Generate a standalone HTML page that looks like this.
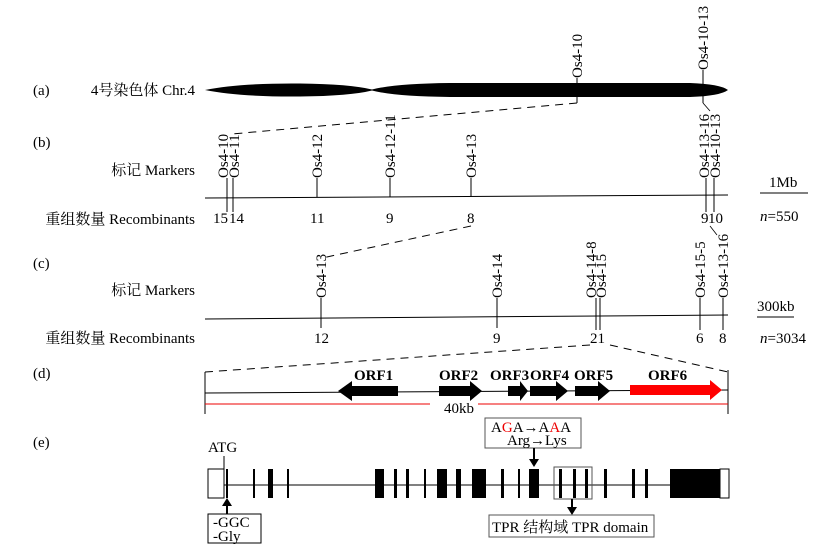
<!DOCTYPE html>
<html><head><meta charset="utf-8"><style>
body{margin:0;background:#fff}
svg{display:block}
text{font-family:"Liberation Serif","Noto Serif CJK SC",serif;font-size:15px;fill:#000}
.b{font-weight:bold;font-size:15px}
</style></head><body>
<svg width="817" height="546" viewBox="0 0 817 546" xmlns="http://www.w3.org/2000/svg">
<!-- (a) -->
<text x="33" y="95">(a)</text>
<text x="195" y="95" text-anchor="end">4号染色体 Chr.4</text>
<path d="M205,90 Q240,83 300,83.5 Q350,84 372,89.5 Q395,83.5 450,83 L690,83 Q720,84 728,90 Q720,96 690,97 L450,97 Q395,96.5 372,90.5 Q350,96 300,96.5 Q240,97 205,90Z" fill="#000"/>
<line x1="577" y1="78" x2="577" y2="103" stroke="#000"/>
<text transform="translate(582,78) rotate(-90)">Os4-10</text>
<line x1="703" y1="70" x2="703" y2="103" stroke="#000"/>
<text transform="translate(708,70) rotate(-90)">Os4-10-13</text>
<line x1="703" y1="103" x2="710" y2="111" stroke="#000" stroke-width="0.8"/>
<line x1="577" y1="103" x2="232" y2="134" stroke="#000" stroke-dasharray="8,6"/>
<!-- (b) -->
<text x="33" y="147">(b)</text>
<text x="195" y="175" text-anchor="end">标记 Markers</text>
<text x="195" y="224" text-anchor="end">重组数量 Recombinants</text>
<line x1="205" y1="198" x2="728" y2="195" stroke="#000"/>
<g stroke="#000">
<line x1="227" y1="178" x2="227" y2="212"/><line x1="233" y1="178" x2="233" y2="212"/>
<line x1="317" y1="178" x2="317" y2="197"/>
<line x1="390" y1="178" x2="390" y2="197"/>
<line x1="471" y1="178" x2="471" y2="197"/>
<line x1="706" y1="178" x2="706" y2="212"/><line x1="714" y1="178" x2="714" y2="212"/>
</g>
<text transform="translate(228,178) rotate(-90)">Os4-10</text>
<text transform="translate(239,178) rotate(-90)">Os4-11</text>
<text transform="translate(322,178) rotate(-90)">Os4-12</text>
<text transform="translate(395,178) rotate(-90)">Os4-12-11</text>
<text transform="translate(476,178) rotate(-90)">Os4-13</text>
<text transform="translate(709,178) rotate(-90)">Os4-13-16</text>
<text transform="translate(720,178) rotate(-90)">Os4-10-13</text>
<text x="213" y="223">15</text><text x="229" y="223">14</text>
<text x="310" y="223">11</text><text x="386" y="223">9</text><text x="467" y="223">8</text>
<text x="701" y="223">9</text><text x="708" y="223">10</text>
<text x="769" y="187">1Mb</text>
<line x1="760" y1="193" x2="808" y2="193" stroke="#000"/>
<text x="760" y="221"><tspan font-style="italic">n</tspan>=550</text>
<line x1="471" y1="226" x2="322" y2="258" stroke="#000" stroke-dasharray="8,6"/>
<line x1="710" y1="226" x2="717" y2="235" stroke="#000" stroke-width="0.8"/>
<!-- (c) -->
<text x="33" y="268">(c)</text>
<text x="195" y="295" text-anchor="end">标记 Markers</text>
<text x="195" y="343" text-anchor="end">重组数量 Recombinants</text>
<line x1="205" y1="319" x2="728" y2="315" stroke="#000"/>
<g stroke="#000">
<line x1="321" y1="298" x2="321" y2="328"/>
<line x1="497" y1="298" x2="497" y2="328"/>
<line x1="596" y1="298" x2="596" y2="330"/><line x1="600" y1="298" x2="600" y2="330"/>
<line x1="700" y1="298" x2="700" y2="330"/>
<line x1="723" y1="298" x2="723" y2="330"/>
</g>
<text transform="translate(326,298) rotate(-90)">Os4-13</text>
<text transform="translate(502,298) rotate(-90)">Os4-14</text>
<text transform="translate(596,298) rotate(-90)">Os4-14-8</text>
<text transform="translate(606,298) rotate(-90)">Os4-15</text>
<text transform="translate(705,298) rotate(-90)">Os4-15-5</text>
<text transform="translate(728,298) rotate(-90)">Os4-13-16</text>
<text x="314" y="343">12</text><text x="493" y="343">9</text><text x="590" y="343">21</text>
<text x="696" y="343">6</text><text x="719" y="343">8</text>
<text x="757" y="311">300kb</text>
<line x1="757" y1="317" x2="794" y2="317" stroke="#000"/>
<text x="760" y="343"><tspan font-style="italic">n</tspan>=3034</text>
<line x1="590" y1="345" x2="205" y2="372" stroke="#000" stroke-dasharray="8,6"/>
<line x1="610" y1="345" x2="728" y2="372" stroke="#000" stroke-dasharray="8,6"/>
<!-- (d) -->
<text x="33" y="378">(d)</text>
<line x1="205" y1="372" x2="205" y2="414" stroke="#000"/>
<line x1="728" y1="370" x2="728" y2="414" stroke="#000"/>
<line x1="205" y1="393" x2="728" y2="390" stroke="#000"/>
<line x1="205" y1="404" x2="430" y2="404" stroke="#e00"/>
<line x1="478" y1="404" x2="728" y2="404" stroke="#e00"/>
<text x="444" y="413">40kb</text>
<polygon points="338,391 352,381 352,386 398,386 398,396 352,396 352,401" fill="#000"/>
<polygon points="439,386 470,386 470,381 482,391 470,401 470,396 439,396" fill="#000"/>
<polygon points="508,386 520,386 520,381 528,391 520,401 520,396 508,396" fill="#000"/>
<polygon points="530,386 556,386 556,381 568,391 556,401 556,396 530,396" fill="#000"/>
<polygon points="575,386 598,386 598,381 610,391 598,401 598,396 575,396" fill="#000"/>
<polygon points="630,385 710,385 710,380 722,390 710,400 710,395 630,395" fill="#f00"/>
<text x="354" y="380" class="b">ORF1</text>
<text x="439" y="380" class="b">ORF2</text>
<text x="490" y="380" class="b">ORF3</text>
<text x="530" y="380" class="b">ORF4</text>
<text x="574" y="380" class="b">ORF5</text>
<text x="648" y="380" class="b">ORF6</text>
<!-- (e) -->
<text x="33" y="447">(e)</text>
<text x="208" y="452">ATG</text>
<line x1="224" y1="456" x2="224" y2="470" stroke="#000"/>
<line x1="208" y1="485" x2="720" y2="485" stroke="#000"/>
<rect x="208" y="469" width="16" height="29" fill="#fff" stroke="#000"/>
<g fill="#000">
<rect x="226" y="469" width="2" height="29"/>
<rect x="253" y="469" width="2" height="29"/>
<rect x="268" y="469" width="5" height="29"/>
<rect x="287" y="469" width="2" height="29"/>
<rect x="375" y="469" width="9" height="29"/>
<rect x="394" y="469" width="3" height="29"/>
<rect x="406" y="469" width="3" height="29"/>
<rect x="424" y="469" width="2" height="29"/>
<rect x="437" y="469" width="10" height="29"/>
<rect x="456" y="469" width="5" height="29"/>
<rect x="472" y="469" width="14" height="29"/>
<rect x="501" y="469" width="3" height="29"/>
<rect x="518" y="469" width="2" height="29"/>
<rect x="529" y="469" width="10" height="29"/>
<rect x="559" y="469" width="3" height="29"/>
<rect x="573" y="469" width="3" height="29"/>
<rect x="585" y="469" width="3" height="29"/>
<rect x="604" y="469" width="3" height="29"/>
<rect x="632" y="469" width="3" height="29"/>
<rect x="645" y="469" width="3" height="29"/>
<rect x="670" y="469" width="50" height="29"/>
</g>
<rect x="720" y="469" width="9" height="29" fill="#fff" stroke="#000"/>
<rect x="554" y="467" width="38" height="32" fill="none" stroke="#555"/>
<rect x="485" y="418" width="96" height="30" fill="#fff" stroke="#555"/>
<text x="491" y="432"><tspan>A</tspan><tspan fill="#e00">G</tspan><tspan>A→A</tspan><tspan fill="#e00">A</tspan><tspan>A</tspan></text>
<text x="507" y="445">Arg→Lys</text>
<line x1="534" y1="448" x2="534" y2="460" stroke="#000" stroke-width="2"/>
<polygon points="529,459 539,459 534,467" fill="#000"/>
<line x1="572" y1="499" x2="572" y2="508" stroke="#000" stroke-width="2"/>
<polygon points="567,507 577,507 572,515" fill="#000"/>
<rect x="489" y="515" width="165" height="22" fill="#fff" stroke="#555"/>
<text x="492" y="532">TPR 结构域 TPR domain</text>
<line x1="227" y1="514" x2="227" y2="505" stroke="#000" stroke-width="2"/>
<polygon points="222,506 232,506 227,498" fill="#000"/>
<rect x="208" y="514" width="53" height="29" fill="#fff" stroke="#000"/>
<text x="213" y="527">-GGC</text>
<text x="213" y="541">-Gly</text>
</svg>
</body></html>
